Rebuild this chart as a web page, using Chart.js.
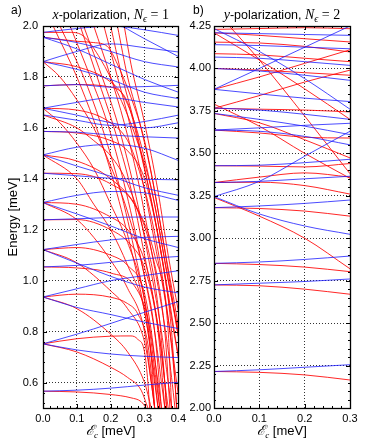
<!DOCTYPE html>
<html>
<head>
<meta charset="utf-8">
<script src="https://cdn.jsdelivr.net/npm/chart.js@4.4.1/dist/chart.umd.min.js"></script>
<style>
  html, body { margin: 0; padding: 0; background: #fff; }
  #wrap { position: relative; width: 365px; height: 440px; overflow: hidden; }
  canvas { position: absolute; top: 0; }
</style>
</head>
<body>
<div id="wrap">
  <canvas id="ca" width="190" height="440" style="left:0"></canvas>
  <canvas id="cb" width="185" height="440" style="left:180px"></canvas>
</div>
<script>
// ---- panel a) x-polarization, N=1 ----
const xTicksA = [0, 0.1, 0.2, 0.3, 0.4];
const yTicksA = [0.6, 0.8, 1.0, 1.2, 1.4, 1.6, 1.8, 2.0];
const xsA = [0, 0.1, 0.2, 0.3, 0.4];

// blue levels, sampled at xsA
const blueA = [
  [0.566, 0.570, 0.578, 0.590, 0.601],
  [0.752, 0.790, 0.832, 0.876, 0.918],
  [0.752, 0.728, 0.712, 0.703, 0.698],
  [0.936, 0.968, 1.000, 1.020, 1.039],
  [0.936, 0.895, 0.867, 0.837, 0.812],
  [1.122, 1.069, 1.017, 0.975, 0.952],
  [1.122, 1.142, 1.160, 1.170, 1.174],
  [1.054, 1.060, 1.072, 1.086, 1.095],
  [1.239, 1.243, 1.248, 1.250, 1.250],
  [1.307, 1.262, 1.215, 1.165, 1.130],
  [1.307, 1.335, 1.350, 1.345, 1.315],
  [1.422, 1.412, 1.402, 1.398, 1.396],
  [1.494, 1.450, 1.410, 1.365, 1.335],
  [1.494, 1.524, 1.535, 1.520, 1.472],
  [1.586, 1.583, 1.572, 1.565, 1.560],
  [1.651, 1.630, 1.610, 1.625, 1.650],
  [1.677, 1.700, 1.718, 1.700, 1.682],
  [1.677, 1.650, 1.620, 1.600, 1.620],
  [1.765, 1.770, 1.760, 1.762, 1.767],
  [1.860, 1.830, 1.790, 1.740, 1.715],
  [1.860, 1.900, 1.930, 1.915, 1.898],
  [1.956, 1.935, 1.900, 1.860, 1.839],
  [1.975, 1.990, 2.000, 1.985, 1.963],
  [2.080, 2.050, 2.020, 1.950, 1.880],
  [1.956, 1.910, 1.850, 1.790, 1.740]
];

// red levels, [field, energy] pairs
const redA = [
  [[0,0.566],[0.1,0.563],[0.2,0.553],[0.26,0.54],[0.29,0.525],[0.305,0.5]],
  [[0,0.752],[0.1,0.772],[0.2,0.782],[0.26,0.783],[0.28,0.77],[0.3,0.72],[0.31,0.6],[0.315,0.5]],
  [[0,0.752],[0.1,0.72],[0.2,0.66],[0.25,0.62],[0.29,0.57],[0.31,0.5]],
  [[0,0.936],[0.1,0.947],[0.2,0.935],[0.25,0.91],[0.28,0.87],[0.31,0.75],[0.33,0.5]],
  [[0,0.936],[0.1,0.89],[0.2,0.79],[0.25,0.72],[0.3,0.6],[0.32,0.5]],
  [[0,1.122],[0.1,1.13],[0.2,1.10],[0.25,1.06],[0.3,0.95],[0.33,0.7],[0.345,0.5]],
  [[0,1.122],[0.1,1.07],[0.2,0.96],[0.25,0.89],[0.3,0.76],[0.32,0.6],[0.33,0.5]],
  [[0,1.054],[0.1,1.05],[0.2,1.03],[0.27,0.98],[0.31,0.85],[0.34,0.6],[0.35,0.5]],
  [[0,1.239],[0.1,1.24],[0.2,1.2],[0.26,1.14],[0.3,1.05],[0.34,0.8],[0.36,0.5]],
  [[0,1.307],[0.1,1.3],[0.2,1.25],[0.25,1.2],[0.3,1.08],[0.33,0.9],[0.36,0.6],[0.365,0.5]],
  [[0,1.307],[0.1,1.24],[0.15,1.17],[0.2,1.08],[0.25,0.97],[0.3,0.8],[0.32,0.6],[0.33,0.5]],
  [[0,1.422],[0.1,1.42],[0.2,1.38],[0.27,1.3],[0.32,1.12],[0.36,0.8],[0.375,0.5]],
  [[0,1.494],[0.1,1.47],[0.2,1.40],[0.28,1.28],[0.33,1.1],[0.37,0.8],[0.38,0.5]],
  [[0,1.494],[0.1,1.40],[0.15,1.3],[0.2,1.2],[0.25,1.06],[0.3,0.88],[0.33,0.6],[0.34,0.5]],
  [[0,1.586],[0.1,1.58],[0.2,1.55],[0.25,1.51],[0.3,1.4],[0.35,1.1],[0.38,0.8],[0.39,0.6],[0.395,0.5]],
  [[0,1.651],[0.1,1.60],[0.15,1.55],[0.2,1.49],[0.25,1.38],[0.3,1.18],[0.34,0.9],[0.36,0.6],[0.365,0.5]],
  [[0,1.677],[0.1,1.67],[0.2,1.62],[0.25,1.55],[0.28,1.45],[0.32,1.25],[0.36,0.95],[0.39,0.6],[0.395,0.5]],
  [[0,1.677],[0.05,1.62],[0.1,1.54],[0.15,1.44],[0.2,1.3],[0.25,1.15],[0.3,0.92],[0.32,0.7],[0.33,0.5]],
  [[0,1.765],[0.1,1.77],[0.2,1.76],[0.25,1.70],[0.28,1.55],[0.33,1.25],[0.37,0.95],[0.4,0.7]],
  [[0,1.86],[0.1,1.84],[0.2,1.78],[0.24,1.72],[0.28,1.58],[0.33,1.3],[0.37,1.0],[0.4,0.8]],
  [[0,1.86],[0.05,1.8],[0.1,1.71],[0.15,1.6],[0.2,1.45],[0.25,1.27],[0.3,1.02],[0.33,0.8],[0.35,0.5]],
  [[0,1.956],[0.1,1.94],[0.15,1.935],[0.19,1.92],[0.22,1.85],[0.26,1.72],[0.3,1.55],[0.35,1.2],[0.38,0.95],[0.4,0.78]],
  [[0,1.975],[0.08,1.975],[0.12,1.96],[0.17,1.87],[0.22,1.74],[0.27,1.58],[0.32,1.36],[0.36,1.08],[0.4,0.78]],
  [[0.03,2.0],[0.1,1.8],[0.15,1.63],[0.2,1.43],[0.25,1.18],[0.3,0.88],[0.33,0.62],[0.34,0.5]],
  [[0.05,2.0],[0.12,1.8],[0.17,1.62],[0.22,1.4],[0.27,1.12],[0.31,0.85],[0.335,0.6],[0.345,0.5]],
  [[0.08,2.0],[0.14,1.8],[0.19,1.62],[0.24,1.38],[0.29,1.08],[0.33,0.8],[0.35,0.6],[0.36,0.5]],
  [[0.11,2.0],[0.16,1.8],[0.21,1.6],[0.26,1.36],[0.3,1.1],[0.34,0.82],[0.36,0.6],[0.37,0.5]],
  [[0.12,2.0],[0.18,1.78],[0.22,1.62],[0.27,1.36],[0.31,1.1],[0.35,0.8],[0.37,0.6],[0.38,0.5]],
  [[0.15,2.0],[0.2,1.8],[0.24,1.62],[0.28,1.4],[0.32,1.12],[0.36,0.82],[0.38,0.62],[0.39,0.5]],
  [[0.18,2.0],[0.22,1.8],[0.25,1.65],[0.29,1.42],[0.33,1.15],[0.37,0.85],[0.39,0.65],[0.4,0.55]],
  [[0.2,2.0],[0.23,1.82],[0.27,1.62],[0.31,1.38],[0.35,1.1],[0.38,0.85],[0.4,0.7]],
  [[0.22,2.0],[0.25,1.8],[0.28,1.65],[0.32,1.42],[0.36,1.12],[0.39,0.9],[0.4,0.82]],
  [[0.24,2.0],[0.26,1.85],[0.3,1.62],[0.34,1.35],[0.37,1.1],[0.4,0.88]]
];

// ---- panel b) y-polarization, N=2 ----
const xTicksB = [0, 0.1, 0.2, 0.3];
const yTicksB = [2.0, 2.25, 2.5, 2.75, 3.0, 3.25, 3.5, 3.75, 4.0, 4.25];
const xsB = [0, 0.1, 0.2, 0.3];

const blueB = [
  [2.215, 2.225, 2.240, 2.255],
  [2.725, 2.735, 2.745, 2.760],
  [2.852, 2.860, 2.875, 2.895],
  [3.180, 3.190, 3.205, 3.225],
  [3.245, 3.143, 3.072, 3.023],
  [3.245, 3.335, 3.483, 3.630],
  [3.328, 3.335, 3.350, 3.365],
  [3.427, 3.430, 3.445, 3.465],
  [3.637, 3.630, 3.600, 3.550],
  [3.637, 3.650, 3.665, 3.677],
  [3.735, 3.700, 3.660, 3.610],
  [3.877, 3.850, 3.825, 3.805],
  [3.877, 4.000, 4.125, 4.250],
  [4.235, 4.100, 3.940, 3.760],
  [4.210, 4.205, 4.200, 4.195],
  [4.140, 4.135, 4.125, 4.116],
  [4.067, 4.060, 4.040, 4.018],
  [4.000, 3.985, 3.960, 3.930],
  [3.767, 3.755, 3.730, 3.700]
];

const redB = [
  [2.215, 2.210, 2.195, 2.165],
  [2.725, 2.720, 2.700, 2.670],
  [2.852, 2.845, 2.830, 2.803],
  [3.240, 3.130, 3.000, 2.820],
  [3.180, 3.175, 3.160, 3.130],
  [3.328, 3.330, 3.310, 3.260],
  [3.328, 3.360, 3.385, 3.360],
  [3.427, 3.425, 3.420, 3.440],
  [3.637, 3.620, 3.595, 3.590],
  [3.790, 3.660, 3.500, 3.353],
  [4.210, 4.050, 3.880, 3.700],
  [4.350, 4.050, 3.720, 3.380],
  [3.735, 3.680, 3.580, 3.473],
  [4.155, 4.150, 4.130, 4.097],
  [4.087, 4.080, 4.060, 4.040],
  [4.000, 3.990, 3.975, 3.960],
  [3.877, 3.950, 4.030, 4.110],
  [3.765, 3.840, 3.920, 3.990],
  [4.230, 4.235, 4.240, 4.234],
  [3.765, 3.760, 3.755, 3.744],
  [4.210, 4.195, 4.175, 4.156]
];

const RED = 'rgba(255,0,0,0.85)';
const BLUE = 'rgba(30,30,255,0.8)';
const SANS = '"Liberation Sans", Arial, sans-serif';
const SERIF = '"Liberation Serif", "DejaVu Serif", serif';

function lineSets(blue, xs, red, redPairs) {
  const common = { borderWidth: 1, pointRadius: 0, fill: false, cubicInterpolationMode: 'monotone' };
  const ds = [];
  blue.forEach(l => ds.push(Object.assign({ data: l.map((v, i) => ({ x: xs[i], y: v })), borderColor: BLUE }, common)));
  red.forEach(l => ds.push(Object.assign({
    data: redPairs ? l.map(p => ({ x: p[0], y: p[1] })) : l.map((v, i) => ({ x: xs[i], y: v })),
    borderColor: RED
  }, common)));
  return ds;
}

function rich(ctx, parts, cx, base) {
  let w = 0;
  parts.forEach(p => { ctx.font = p.f; w += ctx.measureText(p.t).width; });
  let x = cx - w / 2;
  ctx.textAlign = 'left';
  ctx.textBaseline = 'alphabetic';
  parts.forEach(p => {
    ctx.font = p.f;
    ctx.fillText(p.t, x, base + (p.dy || 0));
    x += ctx.measureText(p.t).width;
  });
}

// box, inside ticks, titles
const deco = {
  id: 'deco',
  afterDatasetsDraw(chart, args, o) {
    const { ctx, chartArea: a, scales: { x, y } } = chart;
    ctx.save();
    ctx.strokeStyle = '#000';
    ctx.lineWidth = 1;
    ctx.beginPath();
    for (let k = -60; k < 120; k++) {
      const v = o.yMajor[0] + k * o.yMinor;
      if (v < y.min - 1e-9 || v > y.max + 1e-9) continue;
      const major = o.yMajor.some(t => Math.abs(t - v) < 1e-6);
      const L = major ? 4 : 2;
      const p = Math.round(y.getPixelForValue(v)) + 0.5;
      ctx.moveTo(a.left, p); ctx.lineTo(a.left + L, p);
      ctx.moveTo(a.right, p); ctx.lineTo(a.right - L, p);
    }
    for (let k = -60; k < 120; k++) {
      const v = o.xMajor[0] + k * o.xMinor;
      if (v < x.min - 1e-9 || v > x.max + 1e-9) continue;
      const major = o.xMajor.some(t => Math.abs(t - v) < 1e-6);
      const L = major ? 4 : 2;
      const p = Math.round(x.getPixelForValue(v)) + 0.5;
      ctx.moveTo(p, a.bottom); ctx.lineTo(p, a.bottom - L);
      ctx.moveTo(p, a.top); ctx.lineTo(p, a.top + L);
    }
    ctx.stroke();
    ctx.lineWidth = 1.3;
    ctx.strokeRect(Math.round(a.left) + 0.5, Math.round(a.top) + 0.5,
      Math.round(a.right - a.left), Math.round(a.bottom - a.top));

    ctx.fillStyle = '#000';
    const cx = (a.left + a.right) / 2;
    ctx.font = '12px ' + SANS;
    ctx.textAlign = 'left';
    ctx.textBaseline = 'alphabetic';
    ctx.fillText(o.tag, o.tagX, 14);
    rich(ctx, [
      { t: o.pol, f: 'italic 14px ' + SERIF },
      { t: '-polarization, ', f: '12.5px ' + SANS },
      { t: 'N', f: 'italic 14px ' + SERIF },
      { t: '\u03F5', f: 'italic 10px ' + SERIF, dy: 3 },
      { t: ' = ' + o.n, f: '14px ' + SERIF }
    ], cx, 19);
    rich(ctx, [
      { t: '\u2130', f: 'italic 14px ' + SERIF },
      { t: 'c', f: 'italic 9px ' + SERIF, dy: 3 },
      { t: ' [meV]', f: '13px ' + SANS }
    ], cx, 435);
    if (o.yTitle) {
      ctx.save();
      ctx.translate(16.5, (a.top + a.bottom) / 2);
      ctx.rotate(-Math.PI / 2);
      ctx.font = '13px ' + SANS;
      ctx.textAlign = 'center';
      ctx.fillText(o.yTitle, 0, 0);
      ctx.restore();
    }
    ctx.restore();
  }
};

function makeChart(id, o) {
  const tickFont = { family: SANS, size: 11 };
  return new Chart(document.getElementById(id), {
    type: 'line',
    data: { datasets: o.datasets },
    plugins: [deco],
    options: {
      responsive: false,
      animation: false,
      layout: { padding: { top: 26, right: o.padRight, bottom: 0, left: 0 } },
      plugins: {
        legend: { display: false },
        tooltip: { enabled: false },
        deco: o.deco
      },
      scales: {
        x: {
          type: 'linear', min: o.xMin, max: o.xMax,
          afterBuildTicks: s => { s.ticks = o.xTicks.map(v => ({ value: v })); },
          afterFit: s => { s.height = 32; },
          ticks: { font: tickFont, color: '#000', padding: 4, maxRotation: 0, autoSkip: false,
                   callback: v => v.toFixed(1) },
          grid: { color: '#333', lineWidth: 1, drawTicks: false },
          border: { display: false, dash: [1, 2] }
        },
        y: {
          type: 'linear', min: o.yMin, max: o.yMax,
          afterBuildTicks: s => { s.ticks = o.yTicks.map(v => ({ value: v })); },
          afterFit: s => { s.width = o.yWidth; },
          ticks: { font: tickFont, color: '#000', padding: o.yPad, autoSkip: false,
                   callback: v => v.toFixed(o.yDec) },
          grid: { color: '#333', lineWidth: 1, drawTicks: false },
          border: { display: false, dash: [1, 2] }
        }
      }
    }
  });
}

makeChart('ca', {
  datasets: lineSets(blueA, xsA, redA, true),
  xMin: 0, xMax: 0.4, xTicks: xTicksA,
  yMin: 0.5, yMax: 2.0, yTicks: yTicksA, yDec: 1,
  yWidth: 43, yPad: 5, padRight: 11,
  deco: { tag: 'a)', tagX: 11, pol: 'x', n: 1, yTitle: 'Energy [meV]',
          xMajor: xTicksA, xMinor: 0.02, yMajor: yTicksA, yMinor: 0.04 }
});

makeChart('cb', {
  datasets: lineSets(blueB, xsB, redB, false),
  xMin: 0, xMax: 0.3, xTicks: xTicksB,
  yMin: 2.0, yMax: 4.25, yTicks: yTicksB, yDec: 2,
  yWidth: 34, yPad: 3, padRight: 15,
  deco: { tag: 'b)', tagX: 13, pol: 'y', n: 2, yTitle: null,
          xMajor: xTicksB, xMinor: 0.02, yMajor: yTicksB, yMinor: 0.05 }
});
</script>
</body>
</html>
